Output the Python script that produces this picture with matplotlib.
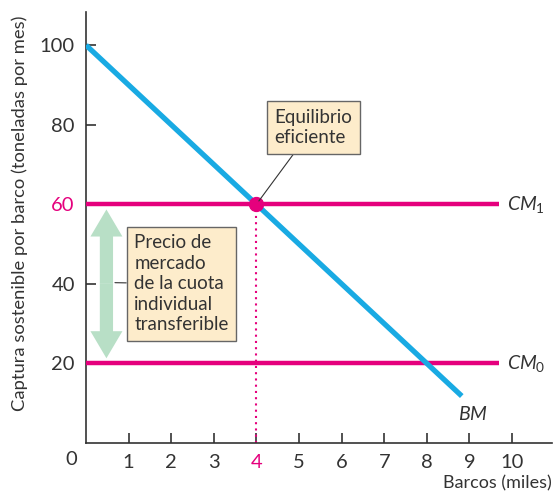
import matplotlib.pyplot as plt
from matplotlib.patches import FancyArrow

plt.rcParams['font.family'] = ['Lato', 'DejaVu Sans']
plt.rcParams['mathtext.fontset'] = 'custom'
plt.rcParams['mathtext.it'] = 'Lato:italic'
plt.rcParams['mathtext.rm'] = 'Lato'

# data
bm_x = [0, 8.82]
bm_y = [100, 11.8]
cm_x = [0, 9.69]
cm1 = 60
cm0 = 20
eq_x, eq_y = 4, 60
xticks = [1, 2, 3, 4, 5, 6, 7, 8, 9, 10]
yticks = [20, 40, 60, 80, 100]

blue = '#19aae3'
magenta = '#e5007d'
dark = '#333333'
box_fc = '#fdeccb'

fig = plt.figure(figsize=(5.54, 4.93), dpi=100)
ax = fig.add_axes([0.1552, 0.1014, 0.8406, 0.8748])
ax.set_xlim(0, 10.93)
ax.set_ylim(0, 108.4)

# lines
ax.plot(cm_x, [cm1, cm1], color=magenta, lw=3.2, solid_capstyle='butt', zorder=3)
ax.plot(cm_x, [cm0, cm0], color=magenta, lw=3.2, solid_capstyle='butt', zorder=3)
ax.plot(bm_x, bm_y, color=blue, lw=3.8, solid_capstyle='butt', zorder=4)
ax.plot([eq_x, eq_x], [0, eq_y], color=magenta, lw=1.5, ls=(0, (1, 2)), zorder=2)
ax.plot(eq_x, eq_y, 'o', color=magenta, ms=10, zorder=5)

# curve labels
ax.text(9.88, cm1, '$CM_1$', fontsize=14, va='center', ha='left', color=dark)
ax.text(9.88, cm0, '$CM_0$', fontsize=14, va='center', ha='left', color=dark)
ax.text(9.08, 7.4, '$BM$', fontsize=14, va='center', ha='center', color=dark)

# green double arrow
arr_kw = dict(width=0.31, head_width=0.75, head_length=6.8, length_includes_head=True,
              color='#b8dfc6', ec='none', zorder=2)
ax.add_patch(FancyArrow(0.48, 40, 0, 18.7, **arr_kw))
ax.add_patch(FancyArrow(0.48, 40, 0, -18.7, **arr_kw))

# annotation boxes
box = dict(boxstyle='square,pad=0.4', fc=box_fc, ec='#666666', lw=1)
ax.annotate('Equilibrio\neficiente', xy=(eq_x, eq_y), xytext=(5.33, 79.3),
            fontsize=13.5, color=dark, ha='center', va='center', linespacing=1.25,
            multialignment='left', bbox=box,
            arrowprops=dict(arrowstyle='-', color=dark, lw=0.8, shrinkA=0, shrinkB=3),
            zorder=6)
ax.annotate('Precio de\nmercado\nde la cuota\nindividual\ntransferible', xy=(0.68, 40.3),
            xytext=(2.24, 40), fontsize=13.5, color=dark, ha='center', va='center',
            linespacing=1.25, multialignment='left', bbox=box,
            arrowprops=dict(arrowstyle='-', color=dark, lw=0.8, shrinkA=0, shrinkB=0),
            zorder=6)

# axes styling
for s in ['top', 'right']:
    ax.spines[s].set_visible(False)
for s in ['left', 'bottom']:
    ax.spines[s].set_color(dark)
    ax.spines[s].set_linewidth(1.2)
ax.set_xticks(xticks)
ax.set_yticks(yticks)
ax.set_xticklabels([str(t) for t in xticks])
ax.set_yticklabels([str(t) for t in yticks])
ax.tick_params(direction='in', length=7, width=1.2, color=dark, labelsize=14.5,
               labelcolor=dark, pad=8)
ax.get_xticklabels()[3].set_color(magenta)
ax.get_yticklabels()[2].set_color(magenta)
ax.text(-0.34, -4.2, '0', fontsize=14.5, color=dark, ha='center', va='center')

fig.text(20 / 554, 1 - 213 / 493, 'Captura sostenible por barco (toneladas por mes)',
         fontsize=13.2, color=dark, rotation=90, ha='center', va='center')
fig.text(552 / 554, 1 - 483 / 493, 'Barcos (miles)', fontsize=13, color=dark,
         ha='right', va='center')

fig.savefig('out.png', dpi=100)
